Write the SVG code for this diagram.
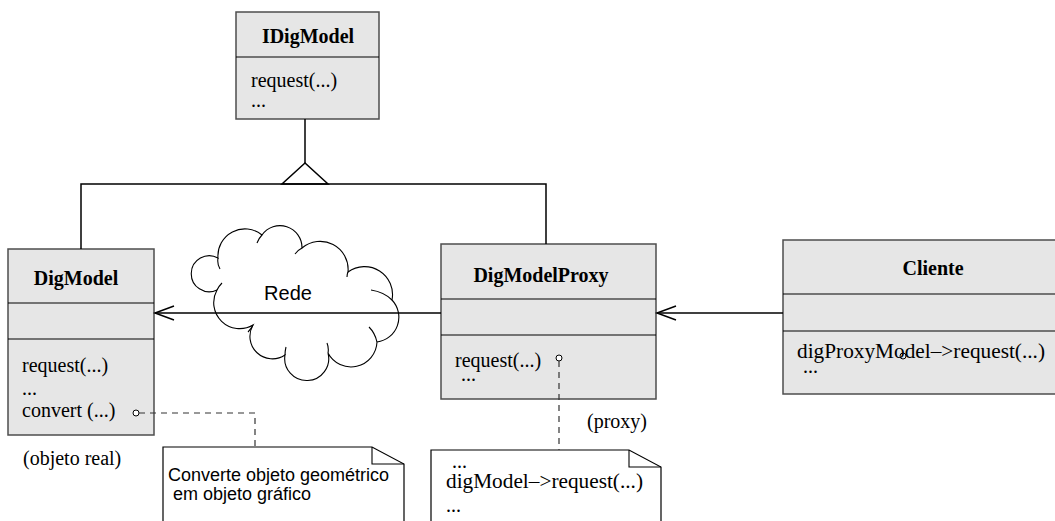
<svg xmlns="http://www.w3.org/2000/svg" width="1055" height="521" viewBox="0 0 1055 521">
<style>
.box{fill:#e6e6e6;stroke:#4d4d4d;stroke-width:1.5}
.div{stroke:#000;stroke-width:1.2}
.ln{fill:none;stroke:#000;stroke-width:1.5}
.cl{fill:none;stroke:#000;stroke-width:1.1}
.dash{fill:none;stroke:#333;stroke-width:1.2;stroke-dasharray:6 5}
.note{fill:#fff;stroke:#000;stroke-width:1.2}
.t{font-family:"Liberation Serif","Times New Roman",serif;font-size:20px;fill:#000}
.b{font-weight:bold;text-anchor:middle}
.s{font-family:"Liberation Sans",Arial,sans-serif;font-size:18px;fill:#000}
.dot{fill:#fff;stroke:#000;stroke-width:1}
</style>
<rect width="1055" height="521" fill="#fff"/>

<g id="cloud">
<path class="cl" d="M217,290 A18,18 0 1,1 218,258 A27,27 0 0,1 262,235 A22,22 0 0,1 302,248 A28,28 0 0,1 348,272 A28,28 0 0,1 392,300 A25,25 0 0,1 377,342 A26,26 0 0,1 328,353 A22,22 0 1,1 285,355 A22.5,22.5 0 0,1 253,325 A26,26 0 0,1 217,290 Z"/>
<path class="cl" d="M218,258 Q217,264 220,269 M262,235 Q259,238 257,243 M302,248 Q298,250 295,254 M348,272 Q347,274 347,277 M371,290 Q384,292 392,300 M377,342 Q375,333 369,327 M328,353 Q329,348 327,343 M285,355 Q285,351 286,347 M253,325 Q251,329 248,332 M217,290 Q219,286 222,283"/>
<text class="s" x="288" y="300" text-anchor="middle" style="font-size:20px">Rede</text>
</g>

<g id="IDigModel">
<rect class="box" x="236" y="12" width="143" height="107"/>
<line class="div" x1="236" y1="57" x2="379" y2="57"/>
<text class="t b" x="308" y="43">IDigModel</text>
<text class="t" x="251" y="87">request(...)<tspan x="251" y="107">...</tspan></text>
</g>

<g id="DigModel">
<rect class="box" x="8" y="249" width="146" height="186"/>
<line class="div" x1="8" y1="303" x2="154" y2="303"/>
<line class="div" x1="8" y1="339" x2="154" y2="339"/>
<text class="t b" x="76" y="285">DigModel</text>
<text class="t" x="22" y="372">request(...)<tspan x="22" y="395">...</tspan><tspan x="22" y="417">convert (...)</tspan></text>
<circle class="dot" cx="136" cy="413" r="3"/>
<text class="t" x="23" y="465">(objeto real)</text>
</g>

<g id="DigModelProxy">
<rect class="box" x="441" y="244" width="215" height="155"/>
<line class="div" x1="441" y1="299" x2="656" y2="299"/>
<line class="div" x1="441" y1="335" x2="656" y2="335"/>
<text class="t b" x="541" y="282">DigModelProxy</text>
<text class="t" x="455" y="367">request(...)<tspan x="461" y="381">...</tspan></text>
<circle class="dot" cx="559" cy="358" r="3"/>
<text class="t" x="587" y="428">(proxy)</text>
</g>

<g id="Cliente">
<rect class="box" x="783" y="240" width="280" height="154"/>
<line class="div" x1="783" y1="294" x2="1063" y2="294"/>
<line class="div" x1="783" y1="331" x2="1063" y2="331"/>
<text class="t b" x="933" y="275">Cliente</text>
<text class="t" x="797" y="358"><tspan textLength="248" lengthAdjust="spacingAndGlyphs">digProxyModel–&gt;request(...)</tspan><tspan x="803" y="373">...</tspan></text>
<circle cx="903" cy="356" r="3" fill="none" stroke="#000" stroke-width="1"/>
</g>

<g id="note-convert">
<path class="note" d="M163,526 L163,447 L372,447 L404,464 L404,526"/>
<polyline class="cl" points="372,447 372,464 404,464"/>
<text class="s" x="168" y="481">Converte objeto geométrico<tspan x="173" y="500">em objeto gráfico</tspan></text>
</g>

<g id="note-proxy">
<path class="note" d="M431,526 L431,450 L629,450 L661,467 L661,526"/>
<polyline class="cl" points="629,450 629,467 661,467"/>
<text class="t" x="452" y="468">...<tspan x="446" y="488" textLength="197" lengthAdjust="spacingAndGlyphs">digModel–&gt;request(...)</tspan><tspan x="446" y="512">...</tspan></text>
</g>

<g id="connectors">
<line class="ln" x1="305" y1="119" x2="305" y2="163"/>
<polygon points="305,163 282,184 328,184" fill="#fff" stroke="#000" stroke-width="1.5"/>
<polyline class="ln" points="81,249 81,184 546,184 546,244"/>
<line class="ln" x1="441" y1="313" x2="155" y2="313"/>
<polyline class="ln" points="174,306 155,313 174,320"/>
<line class="ln" x1="783" y1="313" x2="657" y2="313"/>
<polyline class="ln" points="676,306 657,313 676,320"/>
<polyline class="dash" points="139,413 255,413 255,447"/>
<line class="dash" x1="559" y1="361" x2="559" y2="450"/>
</g>
</svg>
